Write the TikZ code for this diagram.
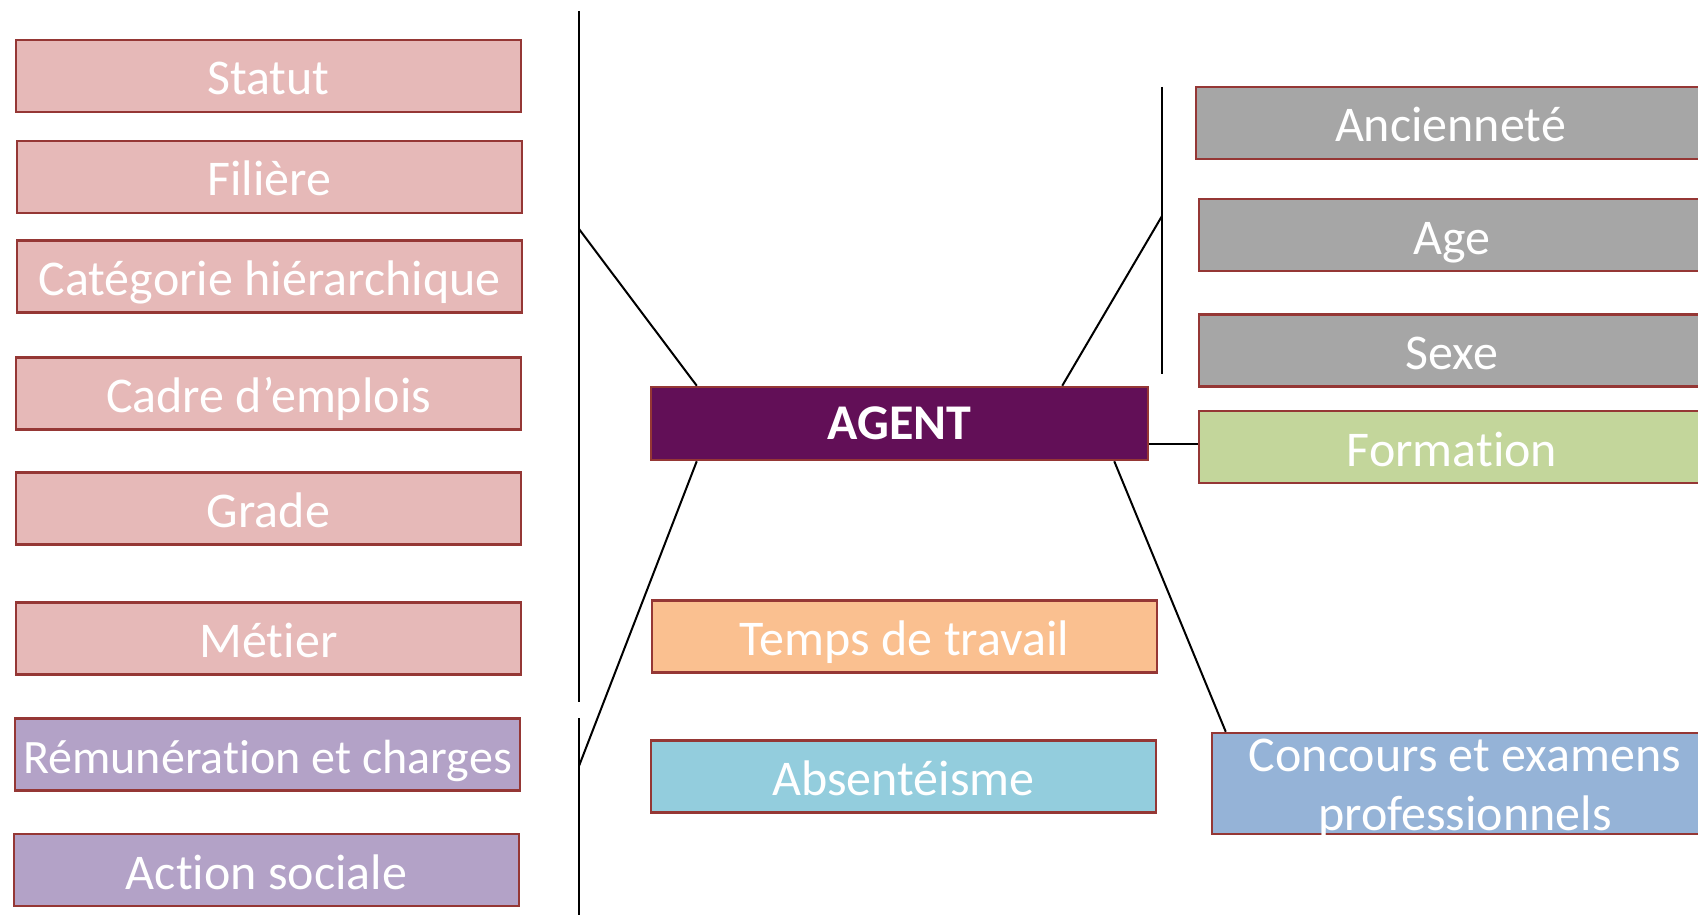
\documentclass[tikz,border=0pt]{standalone}
\usepackage{fontspec}
\setmainfont{Carlito}[Ligatures=NoCommon]
\usetikzlibrary{calc}
\definecolor{pinkf}{HTML}{E6B9B8}
\definecolor{lilac}{HTML}{B3A2C7}
\definecolor{brd}{HTML}{953735}
\definecolor{agentc}{HTML}{620F57}
\definecolor{peach}{HTML}{FAC090}
\definecolor{skyb}{HTML}{93CDDD}
\definecolor{grayf}{HTML}{A6A6A6}
\definecolor{greenf}{HTML}{C3D69B}
\definecolor{bluef}{HTML}{95B3D7}
\begin{document}
\begin{tikzpicture}[x=1pt,y=-1pt,
  box/.style={draw=brd, line width=2.5pt, inner sep=0pt, minimum height=72pt,
    text=white, font=\fontsize{50}{59}\selectfont, text height=42pt, text depth=4pt},
  lbox/.style={box, minimum width=505pt},
  conn/.style={draw=black, line width=2pt}]
\useasboundingbox (0,0) rectangle (1698,915);
\clip (0,0) rectangle (1698,915);
\fill[white] (0,0) rectangle (1698,915);

% left column
\node[lbox, fill=pinkf] (statut)    at (268.5,76)  {Statut};
\node[lbox, fill=pinkf] (filiere)   at (269.5,177) {Filière};
\node[lbox, fill=pinkf] (categorie) at (269.5,276.5) {Catégorie hiérarchique};
\node[lbox, fill=pinkf] (cadre)     at (268.5,393.5) {Cadre d’emplois};
\node[lbox, fill=pinkf] (grade)     at (268.5,508.5) {Grade};
\node[lbox, fill=pinkf] (metier)    at (268.5,638.5) {Métier};
\node[lbox, fill=lilac, font=\fontsize{48}{57}\selectfont] (remun) at (267.5,754.5) {Rémunération et charges};
\node[lbox, fill=lilac] (action)    at (266.5,870)   {Action sociale};

% centre
\node[box, fill=agentc, minimum width=497pt, minimum height=73pt, text height=36pt,
  font=\fontsize{50}{59}\selectfont\bfseries] (agent) at (899.5,423.5) {AGENT};
\node[lbox, fill=peach] (temps) at (904.5,636.5) {Temps de travail};
\node[lbox, fill=skyb]  (absent) at (903.5,776.5) {Absentéisme};

% right column
\node[box, fill=grayf, minimum width=509pt] (anciennete) at (1450.5,123) {Ancienneté};
\node[box, fill=grayf, minimum width=506pt] (age)        at (1452,235)   {Age};
\node[box, fill=grayf, minimum width=506pt] (sexe)       at (1452,350.5) {Sexe};
\node[box, fill=greenf, minimum width=506pt] (formation) at (1452,447)   {Formation};
\node[draw=brd, line width=2.5pt, fill=bluef, inner sep=0pt, minimum width=504pt, minimum height=101pt] (concours) at (1464,783.5) {};
\node[text=white, font=\fontsize{50}{59}\selectfont, align=center, inner sep=0pt, anchor=base] (concourstxt) at (1465,830) {Concours et examens\\professionnels};

% connectors
\coordinate (lv1top) at (579,11);
\coordinate (lv1bot) at (579,702);
\coordinate (lv2top) at (579,718);
\coordinate (lv2bot) at (579,915);
\coordinate (lj1) at (579,229);
\coordinate (lj2) at (579,766);
\coordinate (rvtop) at (1162,87);
\coordinate (rvbot) at (1162,374);
\coordinate (rj) at (1162,216);

\draw[conn] (lv1top) -- (lv1bot);
\draw[conn] (lv2top) -- (lv2bot);
\draw[conn] (rvtop) -- (rvbot);
\draw[conn] (lj1) -- ([xshift=47pt]agent.north west);
\draw[conn] ([xshift=47pt]agent.south west) -- (lj2);
\draw[conn] ([xshift=-87pt]agent.north east) -- (rj);
\draw[conn] ([yshift=-20.5pt]agent.east) -- ([yshift=-20.5pt]agent.east -| formation.west);
\draw[conn] ([xshift=-35pt]agent.south east) -- ([xshift=15pt]concours.north west);
\end{tikzpicture}
\end{document}
